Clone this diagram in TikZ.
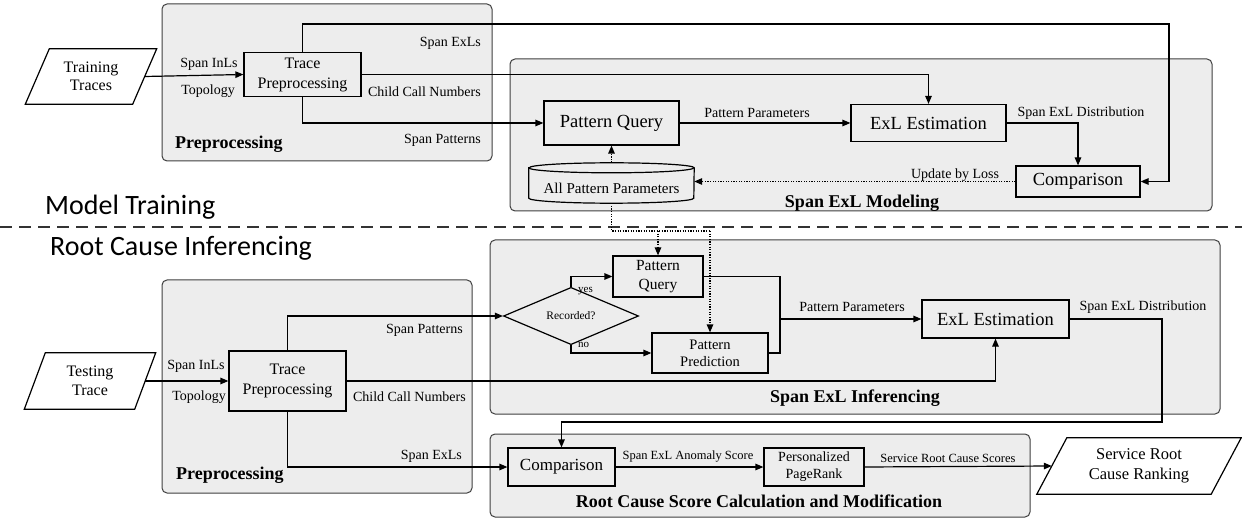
\documentclass[tikz,border=0pt]{standalone}
\usepackage{fontspec}
\setmainfont{Liberation Serif}
\newfontfamily\sansf{Carlito}
\newfontfamily\serf{Liberation Serif}
\usetikzlibrary{arrows.meta,shapes.geometric,calc}
\newcommand\parashape[2]{\draw[line width=1.2pt, fill=white] ([xshift=#2]#1.north west) -- ([xshift=#2]#1.north east) -- ([xshift=-#2]#1.south east) -- ([xshift=-#2]#1.south west) -- cycle;}
\newcommand\fs[2]{\serf\fontsize{#1}{#2}\selectfont}
\begin{document}
\begin{tikzpicture}[x=1pt,y=-1pt,
 container/.style={draw=black!75, line width=1pt, fill=black!7, rounded corners=5pt, inner sep=0pt},
 box/.style={draw, line width=1.2pt, fill=black!7, align=center, inner sep=0pt},
 conn/.style={line width=1.2pt},
 arr/.style={line width=1.2pt, -{Triangle[length=8pt,width=6.5pt]}},
 dotl/.style={line width=1.2pt, dash pattern=on 1.3pt off 1.3pt},
 dotarr/.style={dotl, -{Triangle[length=8pt,width=6.5pt]}},
 lbl/.style={font=\fs{14}{16}, inner sep=0pt},
 lbltwo/.style={font=\fs{12.5}{14}, inner sep=0pt},
 smalllbl/.style={font=\fs{11}{13}, inner sep=0pt},
 ttl/.style={font=\fs{18}{20}\bfseries, inner sep=0pt},
 sanslbl/.style={font=\sansf\fontsize{28}{30}\selectfont, inner sep=0pt},
 ghost/.style={inner sep=0pt, draw=none},
]
\path[use as bounding box, fill=white] (0,0) rectangle (1242,521);

% containers
\node[container, minimum width=330pt, minimum height=157pt] (pre1) at (327,82.5) {};
\node[container, minimum width=702pt, minimum height=152pt] (mod) at (861,135) {};
\node[container, minimum width=310pt, minimum height=213pt] (pre2) at (317,386.5) {};
\node[container, minimum width=730pt, minimum height=174pt] (inf) at (855,327) {};
\node[container, minimum width=540pt, minimum height=83pt] (rcs) at (760,475.5) {};

% separator
\draw[line width=1.3pt, black!80, dash pattern=on 12pt off 7pt] (0,227) -- (1242,227);

% ---------- top part ----------
\node[ghost, minimum width=107pt, minimum height=55pt] (trn) at (91,76.5) {};
\parashape{trn}{12pt}
\node[inner sep=0pt, align=center, font=\fs{16}{18.5}] (trnt) at (trn) {Training\\Traces};

\node[box, minimum width=117pt, minimum height=44pt, font=\fs{16}{20}] (tp1) at (302.5,74.5) {Trace\\Preprocessing};
\node[box, minimum width=135pt, minimum height=44pt, font=\fs{18.5}{20}] (pq1) at (611.5,123) {Pattern Query};
\node[box, minimum width=155pt, minimum height=37pt, font=\fs{18.5}{20}] (exl1) at (928.5,123) {ExL Estimation};
\node[box, minimum width=124pt, minimum height=31pt, font=\fs{18.5}{20}] (cmp1) at (1078,181.5) {Comparison};

\node[ghost, minimum width=165pt, minimum height=40pt] (cyl) at (611.5,183) {};
\draw[line width=1.2pt, fill=black!7] ([yshift=-5pt]cyl.north west) -- ([yshift=5pt]cyl.south west) arc[start angle=180, end angle=360, x radius=82.5pt, y radius=5pt] -- ([yshift=-5pt]cyl.north east) arc[start angle=0, end angle=180, x radius=82.5pt, y radius=5pt] -- cycle;
\draw[line width=1.2pt] ([yshift=-5pt]cyl.north west) arc[start angle=180, end angle=360, x radius=82.5pt, y radius=5pt];
\node[inner sep=0pt, font=\fs{15}{17}] (cylt) at (611.5,188) {All Pattern Parameters};

\coordinate (c2) at (1169,24);
\draw[arr] (trn.east) -- (tp1.west);
\draw[arr] (tp1.north) |- (c2) |- (cmp1.east);
\draw[arr] (tp1.east) -| (exl1.north);
\draw[arr] (tp1.south) |- (pq1.west);
\draw[arr] (pq1.east) -- (exl1.west);
\draw[arr] (exl1.east) -| (cmp1.north);
\draw[dotarr] (cmp1.west) -- (cmp1.west -| cyl.east);
\draw[dotarr] (cyl.north) -- (pq1.south);

\node[lbl] (la1) at (209,64) {Span InLs};
\node[lbl] (la2) at (208,91) {Topology};
\node[lbl, anchor=east] (la3) at (481,43) {Span ExLs};
\node[lbl, anchor=east] (la4) at (481,92) {Child Call Numbers};
\node[lbl, anchor=east] (la5) at (481,140) {Span Patterns};
\node[ttl, anchor=west] (la6) at (175,144) {Preprocessing};
\node[sanslbl, anchor=west] (la7) at (45,207) {Model Training};
\node[lbl] (la8) at (757,113) {Pattern Parameters};
\node[lbl] (la9) at (1081,113) {Span ExL Distribution};
\node[lbl] (la10) at (955,175) {Update by Loss};
\node[ttl] (la11) at (862,203) {Span ExL Modeling};

% ---------- bottom part ----------
\node[ghost, minimum width=110pt, minimum height=56pt] (tst) at (90,381) {};
\parashape{tst}{10.5pt}
\node[inner sep=0pt, align=center, font=\fs{16}{19}] (tstt) at (tst) {Testing\\Trace};

\node[ghost, minimum width=174pt, minimum height=56pt] (srv) at (1139,466) {};
\parashape{srv}{15pt}
\node[inner sep=0pt, align=center, font=\fs{16.5}{19.5}] (srvt) at (srv) {Service Root\\Cause Ranking};

\node[box, minimum width=117pt, minimum height=60pt, font=\fs{16}{20.5}] (tp2) at (287.5,381) {Trace\\Preprocessing};
\node[diamond, draw, line width=1.2pt, fill=black!7, minimum width=135pt, minimum height=36pt, inner sep=0pt, font=\fs{11.5}{13}] (rec) at (571,316) {Recorded?};
\node[box, minimum width=90pt, minimum height=41pt, font=\fs{15.5}{19}] (pq2) at (658,276.5) {Pattern\\Query};
\node[box, minimum width=116pt, minimum height=40pt, font=\fs{14.5}{17}] (pp) at (710,353) {Pattern\\Prediction};
\node[box, minimum width=147pt, minimum height=38pt, font=\fs{18.5}{20}] (exl2) at (995.5,319) {ExL Estimation};
\node[box, minimum width=107pt, minimum height=38pt, font=\fs{17}{19}] (cmp2) at (561.5,467) {Comparison};
\node[box, minimum width=100pt, minimum height=38pt, font=\fs{14}{17}] (ppr) at (814,467) {Personalized\\PageRank};

\coordinate (jn) at (780,319);
\coordinate (c1) at (1162,422);
\coordinate (dj) at (710,231);
\draw[arr] (tst.east) -- (tp2.west);
\draw[arr] (tp2.north) |- (rec.west);
\draw[arr] (rec.north) |- (pq2.west);
\draw[arr] (rec.south) |- (pp.west);
\draw[conn] (pq2.east) -| (jn);
\draw[conn] (pp.east) -| (jn);
\draw[arr] (jn) -- (exl2.west);
\draw[arr] (tp2.east) -| (exl2.south);
\draw[arr] (exl2.east) -| (c1) -| (cmp2.north);
\draw[arr] (tp2.south) |- (cmp2.west);
\draw[arr] (cmp2.east) -- (ppr.west);
\draw[arr] (ppr.east) -- (srv.west);
\draw[dotl] (cyl.south) |- (dj);
\draw[dotarr] (dj) -- (pp.north);
\draw[dotarr] (pq2.north |- dj) -- (pq2.north);

\node[sanslbl, anchor=west] (lb0) at (50,248) {Root Cause Inferencing};
\node[lbl] (lb1) at (196,366) {Span InLs};
\node[lbl] (lb2) at (199,397) {Topology};
\node[lbl, anchor=east] (lb3) at (463,330) {Span Patterns};
\node[lbl, anchor=east] (lb4) at (466,397) {Child Call Numbers};
\node[lbl, anchor=east] (lb5) at (462,456) {Span ExLs};
\node[ttl, anchor=west] (lb6) at (176,475) {Preprocessing};
\node[smalllbl, anchor=west] (lb7) at (578,291) {yes};
\node[smalllbl, anchor=west] (lb8) at (578,345) {no};
\node[lbl] (lb9) at (852,307) {Pattern Parameters};
\node[lbl] (lb10) at (1143,307) {Span ExL Distribution};
\node[ttl] (lb11) at (855,398) {Span ExL Inferencing};
\node[lbltwo] (lb12) at (688,457) {Span ExL Anomaly Score};
\node[lbltwo] (lb13) at (948,458) {Service Root Cause Scores};
\node[ttl] (lb14) at (759,501) {Root Cause Score Calculation and Modification};
\end{tikzpicture}
\end{document}
